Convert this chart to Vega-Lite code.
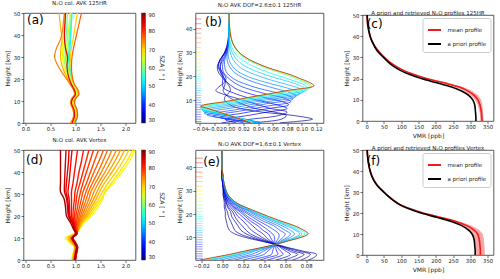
{
"$schema":"https://vega.github.io/schema/vega-lite/v6.json",
"autosize":{"type":"none"},
"padding":{"left":23.5,"top":13,"right":476.5,"bottom":266},
"config":{
"font":"DejaVu Sans",
"view":{"stroke":"#333","strokeWidth":0.8},
"axis":{"domain":false,"grid":false,"ticks":true,"tickColor":"#333","tickSize":2.5,"tickWidth":0.7,"labelFontSize":5.3,"labelColor":"#222","labelPadding":1,"labelFlush":false,"labelOverlap":false,"titleFontSize":6,"titleFontWeight":"normal","titleColor":"#222","titlePadding":3},
"title":{"fontSize":5.5,"fontWeight":"normal","color":"#222","anchor":"middle","frame":"group","baseline":"alphabetic"},
"legend":{"labelFontSize":5.3,"labelColor":"#222","titleFontSize":6,"titleFontWeight":"normal","titleColor":"#222"}
},
"datasets":{
"a":[
{"k":101,"c":52,"h":0,"x":1.00},{"k":101,"c":52,"h":3,"x":1.04},{"k":101,"c":52,"h":6,"x":1.03},{"k":101,"c":52,"h":9,"x":0.98},{"k":101,"c":52,"h":11,"x":1.00},{"k":101,"c":52,"h":13,"x":1.05},{"k":101,"c":52,"h":15,"x":1.03},{"k":101,"c":52,"h":18,"x":0.96},{"k":101,"c":52,"h":22,"x":0.91},{"k":101,"c":52,"h":26,"x":0.89},{"k":101,"c":52,"h":30,"x":0.88},{"k":101,"c":52,"h":34,"x":0.89},{"k":101,"c":52,"h":38,"x":0.90},{"k":101,"c":52,"h":42,"x":0.91},{"k":101,"c":52,"h":46,"x":0.92},{"k":101,"c":52,"h":50,"x":0.93},
{"k":102,"c":55,"h":0,"x":0.99},{"k":102,"c":55,"h":3,"x":1.03},{"k":102,"c":55,"h":6,"x":1.02},{"k":102,"c":55,"h":9,"x":0.97},{"k":102,"c":55,"h":11,"x":0.99},{"k":102,"c":55,"h":13,"x":1.04},{"k":102,"c":55,"h":15,"x":1.02},{"k":102,"c":55,"h":18,"x":0.95},{"k":102,"c":55,"h":22,"x":0.90},{"k":102,"c":55,"h":26,"x":0.87},{"k":102,"c":55,"h":30,"x":0.86},{"k":102,"c":55,"h":34,"x":0.87},{"k":102,"c":55,"h":38,"x":0.89},{"k":102,"c":55,"h":42,"x":0.90},{"k":102,"c":55,"h":46,"x":0.91},{"k":102,"c":55,"h":50,"x":0.92},
{"k":103,"c":58,"h":0,"x":0.97},{"k":103,"c":58,"h":3,"x":1.01},{"k":103,"c":58,"h":6,"x":1.00},{"k":103,"c":58,"h":9,"x":0.95},{"k":103,"c":58,"h":11,"x":0.97},{"k":103,"c":58,"h":13,"x":1.02},{"k":103,"c":58,"h":15,"x":1.00},{"k":103,"c":58,"h":18,"x":0.93},{"k":103,"c":58,"h":22,"x":0.86},{"k":103,"c":58,"h":26,"x":0.82},{"k":103,"c":58,"h":30,"x":0.80},{"k":103,"c":58,"h":34,"x":0.80},{"k":103,"c":58,"h":38,"x":0.81},{"k":103,"c":58,"h":42,"x":0.82},{"k":103,"c":58,"h":46,"x":0.83},{"k":103,"c":58,"h":50,"x":0.84},
{"k":104,"c":60,"h":0,"x":0.98},{"k":104,"c":60,"h":3,"x":1.02},{"k":104,"c":60,"h":6,"x":1.01},{"k":104,"c":60,"h":9,"x":0.96},{"k":104,"c":60,"h":11,"x":0.98},{"k":104,"c":60,"h":13,"x":1.03},{"k":104,"c":60,"h":15,"x":1.01},{"k":104,"c":60,"h":18,"x":0.94},{"k":104,"c":60,"h":22,"x":0.88},{"k":104,"c":60,"h":26,"x":0.85},{"k":104,"c":60,"h":30,"x":0.84},{"k":104,"c":60,"h":34,"x":0.85},{"k":104,"c":60,"h":38,"x":0.87},{"k":104,"c":60,"h":42,"x":0.88},{"k":104,"c":60,"h":46,"x":0.89},{"k":104,"c":60,"h":50,"x":0.90},
{"k":105,"c":62,"h":0,"x":0.95},{"k":105,"c":62,"h":3,"x":0.99},{"k":105,"c":62,"h":6,"x":0.98},{"k":105,"c":62,"h":9,"x":0.93},{"k":105,"c":62,"h":11,"x":0.95},{"k":105,"c":62,"h":13,"x":1.01},{"k":105,"c":62,"h":15,"x":0.99},{"k":105,"c":62,"h":18,"x":0.92},{"k":105,"c":62,"h":22,"x":0.84},{"k":105,"c":62,"h":26,"x":0.79},{"k":105,"c":62,"h":30,"x":0.77},{"k":105,"c":62,"h":34,"x":0.77},{"k":105,"c":62,"h":38,"x":0.78},{"k":105,"c":62,"h":42,"x":0.79},{"k":105,"c":62,"h":46,"x":0.80},{"k":105,"c":62,"h":50,"x":0.80},
{"k":106,"c":65,"h":0,"x":0.97},{"k":106,"c":65,"h":3,"x":1.00},{"k":106,"c":65,"h":6,"x":0.99},{"k":106,"c":65,"h":9,"x":0.94},{"k":106,"c":65,"h":11,"x":0.96},{"k":106,"c":65,"h":13,"x":1.02},{"k":106,"c":65,"h":15,"x":1.00},{"k":106,"c":65,"h":18,"x":0.93},{"k":106,"c":65,"h":22,"x":0.87},{"k":106,"c":65,"h":26,"x":0.84},{"k":106,"c":65,"h":30,"x":0.82},{"k":106,"c":65,"h":34,"x":0.82},{"k":106,"c":65,"h":38,"x":0.84},{"k":106,"c":65,"h":42,"x":0.86},{"k":106,"c":65,"h":46,"x":0.88},{"k":106,"c":65,"h":50,"x":0.90},
{"k":107,"c":67,"h":0,"x":0.94},{"k":107,"c":67,"h":3,"x":0.98},{"k":107,"c":67,"h":6,"x":0.97},{"k":107,"c":67,"h":9,"x":0.92},{"k":107,"c":67,"h":11,"x":0.94},{"k":107,"c":67,"h":13,"x":1.00},{"k":107,"c":67,"h":15,"x":0.98},{"k":107,"c":67,"h":18,"x":0.90},{"k":107,"c":67,"h":22,"x":0.82},{"k":107,"c":67,"h":26,"x":0.76},{"k":107,"c":67,"h":30,"x":0.74},{"k":107,"c":67,"h":34,"x":0.74},{"k":107,"c":67,"h":38,"x":0.75},{"k":107,"c":67,"h":42,"x":0.76},{"k":107,"c":67,"h":46,"x":0.77},{"k":107,"c":67,"h":50,"x":0.78},
{"k":108,"c":70,"h":0,"x":0.96},{"k":108,"c":70,"h":3,"x":1.02},{"k":108,"c":70,"h":6,"x":1.01},{"k":108,"c":70,"h":9,"x":0.96},{"k":108,"c":70,"h":11,"x":0.98},{"k":108,"c":70,"h":13,"x":1.05},{"k":108,"c":70,"h":15,"x":1.03},{"k":108,"c":70,"h":18,"x":0.96},{"k":108,"c":70,"h":22,"x":0.92},{"k":108,"c":70,"h":26,"x":0.91},{"k":108,"c":70,"h":30,"x":0.90},{"k":108,"c":70,"h":34,"x":0.92},{"k":108,"c":70,"h":38,"x":0.95},{"k":108,"c":70,"h":42,"x":0.98},{"k":108,"c":70,"h":46,"x":1.01},{"k":108,"c":70,"h":50,"x":1.04},
{"k":109,"c":72,"h":0,"x":0.93},{"k":109,"c":72,"h":3,"x":0.97},{"k":109,"c":72,"h":6,"x":0.96},{"k":109,"c":72,"h":9,"x":0.91},{"k":109,"c":72,"h":11,"x":0.93},{"k":109,"c":72,"h":13,"x":0.99},{"k":109,"c":72,"h":15,"x":0.97},{"k":109,"c":72,"h":18,"x":0.89},{"k":109,"c":72,"h":22,"x":0.80},{"k":109,"c":72,"h":26,"x":0.73},{"k":109,"c":72,"h":30,"x":0.70},{"k":109,"c":72,"h":34,"x":0.71},{"k":109,"c":72,"h":38,"x":0.73},{"k":109,"c":72,"h":42,"x":0.71},{"k":109,"c":72,"h":46,"x":0.69},{"k":109,"c":72,"h":50,"x":0.67},
{"k":110,"c":75,"h":0,"x":0.90},{"k":110,"c":75,"h":3,"x":0.96},{"k":110,"c":75,"h":6,"x":0.95},{"k":110,"c":75,"h":9,"x":0.90},{"k":110,"c":75,"h":11,"x":0.92},{"k":110,"c":75,"h":13,"x":0.98},{"k":110,"c":75,"h":15,"x":0.96},{"k":110,"c":75,"h":18,"x":0.88},{"k":110,"c":75,"h":22,"x":0.76},{"k":110,"c":75,"h":26,"x":0.65},{"k":110,"c":75,"h":30,"x":0.58},{"k":110,"c":75,"h":34,"x":0.62},{"k":110,"c":75,"h":38,"x":0.70},{"k":110,"c":75,"h":42,"x":0.74},{"k":110,"c":75,"h":46,"x":0.76},{"k":110,"c":75,"h":50,"x":0.78},
{"k":111,"c":77,"h":0,"x":0.98},{"k":111,"c":77,"h":3,"x":1.04},{"k":111,"c":77,"h":6,"x":1.03},{"k":111,"c":77,"h":9,"x":0.98},{"k":111,"c":77,"h":11,"x":1.00},{"k":111,"c":77,"h":13,"x":1.07},{"k":111,"c":77,"h":15,"x":1.05},{"k":111,"c":77,"h":18,"x":0.97},{"k":111,"c":77,"h":22,"x":0.93},{"k":111,"c":77,"h":26,"x":0.92},{"k":111,"c":77,"h":30,"x":0.93},{"k":111,"c":77,"h":34,"x":0.96},{"k":111,"c":77,"h":38,"x":1.00},{"k":111,"c":77,"h":42,"x":1.04},{"k":111,"c":77,"h":46,"x":1.08},{"k":111,"c":77,"h":50,"x":1.12},
{"k":112,"c":84,"h":0,"x":0.93},{"k":112,"c":84,"h":3,"x":0.98},{"k":112,"c":84,"h":6,"x":0.97},{"k":112,"c":84,"h":9,"x":0.92},{"k":112,"c":84,"h":11,"x":0.94},{"k":112,"c":84,"h":13,"x":1.00},{"k":112,"c":84,"h":15,"x":0.98},{"k":112,"c":84,"h":18,"x":0.91},{"k":112,"c":84,"h":22,"x":0.85},{"k":112,"c":84,"h":26,"x":0.83},{"k":112,"c":84,"h":30,"x":0.84},{"k":112,"c":84,"h":34,"x":0.80},{"k":112,"c":84,"h":38,"x":0.78},{"k":112,"c":84,"h":42,"x":0.78},{"k":112,"c":84,"h":46,"x":0.79},{"k":112,"c":84,"h":50,"x":0.80}
],
"d":[
{"k":101,"c":67,"h":0,"x":0.92},{"k":101,"c":67,"h":3,"x":0.95},{"k":101,"c":67,"h":6,"x":0.97},{"k":101,"c":67,"h":8,"x":0.88},{"k":101,"c":67,"h":10,"x":0.80},{"k":101,"c":67,"h":12,"x":0.97},{"k":101,"c":67,"h":14,"x":1.08},{"k":101,"c":67,"h":17,"x":1.17},{"k":101,"c":67,"h":20,"x":1.32},{"k":101,"c":67,"h":24,"x":1.44},{"k":101,"c":67,"h":28,"x":1.55},{"k":101,"c":67,"h":31,"x":1.58},{"k":101,"c":67,"h":35,"x":1.76},{"k":101,"c":67,"h":40,"x":1.93},{"k":101,"c":67,"h":45,"x":2.08},{"k":101,"c":67,"h":50,"x":2.19},
{"k":102,"c":69,"h":0,"x":0.93},{"k":102,"c":69,"h":3,"x":0.96},{"k":102,"c":69,"h":6,"x":0.98},{"k":102,"c":69,"h":8,"x":0.90},{"k":102,"c":69,"h":10,"x":0.83},{"k":102,"c":69,"h":12,"x":0.99},{"k":102,"c":69,"h":14,"x":1.07},{"k":102,"c":69,"h":17,"x":1.15},{"k":102,"c":69,"h":20,"x":1.28},{"k":102,"c":69,"h":24,"x":1.40},{"k":102,"c":69,"h":28,"x":1.52},{"k":102,"c":69,"h":31,"x":1.60},{"k":102,"c":69,"h":35,"x":1.72},{"k":102,"c":69,"h":40,"x":1.88},{"k":102,"c":69,"h":45,"x":2.03},{"k":102,"c":69,"h":50,"x":2.15},
{"k":103,"c":70,"h":0,"x":0.94},{"k":103,"c":70,"h":3,"x":0.97},{"k":103,"c":70,"h":6,"x":0.99},{"k":103,"c":70,"h":8,"x":0.91},{"k":103,"c":70,"h":10,"x":0.85},{"k":103,"c":70,"h":12,"x":1.00},{"k":103,"c":70,"h":14,"x":1.06},{"k":103,"c":70,"h":17,"x":1.14},{"k":103,"c":70,"h":20,"x":1.25},{"k":103,"c":70,"h":24,"x":1.36},{"k":103,"c":70,"h":28,"x":1.47},{"k":103,"c":70,"h":31,"x":1.54},{"k":103,"c":70,"h":35,"x":1.65},{"k":103,"c":70,"h":40,"x":1.81},{"k":103,"c":70,"h":45,"x":1.95},{"k":103,"c":70,"h":50,"x":2.07},
{"k":104,"c":72,"h":0,"x":0.95},{"k":104,"c":72,"h":3,"x":0.97},{"k":104,"c":72,"h":6,"x":0.99},{"k":104,"c":72,"h":8,"x":0.93},{"k":104,"c":72,"h":10,"x":0.87},{"k":104,"c":72,"h":12,"x":1.01},{"k":104,"c":72,"h":14,"x":1.06},{"k":104,"c":72,"h":17,"x":1.12},{"k":104,"c":72,"h":20,"x":1.22},{"k":104,"c":72,"h":24,"x":1.32},{"k":104,"c":72,"h":28,"x":1.42},{"k":104,"c":72,"h":31,"x":1.48},{"k":104,"c":72,"h":35,"x":1.58},{"k":104,"c":72,"h":40,"x":1.73},{"k":104,"c":72,"h":45,"x":1.87},{"k":104,"c":72,"h":50,"x":1.98},
{"k":105,"c":73,"h":0,"x":0.95},{"k":105,"c":73,"h":3,"x":0.98},{"k":105,"c":73,"h":6,"x":1.00},{"k":105,"c":73,"h":8,"x":0.94},{"k":105,"c":73,"h":10,"x":0.89},{"k":105,"c":73,"h":12,"x":1.01},{"k":105,"c":73,"h":14,"x":1.05},{"k":105,"c":73,"h":17,"x":1.10},{"k":105,"c":73,"h":20,"x":1.19},{"k":105,"c":73,"h":24,"x":1.28},{"k":105,"c":73,"h":28,"x":1.37},{"k":105,"c":73,"h":31,"x":1.43},{"k":105,"c":73,"h":35,"x":1.52},{"k":105,"c":73,"h":40,"x":1.66},{"k":105,"c":73,"h":45,"x":1.79},{"k":105,"c":73,"h":50,"x":1.90},
{"k":106,"c":74,"h":0,"x":0.96},{"k":106,"c":74,"h":3,"x":0.98},{"k":106,"c":74,"h":6,"x":1.00},{"k":106,"c":74,"h":8,"x":0.95},{"k":106,"c":74,"h":10,"x":0.90},{"k":106,"c":74,"h":12,"x":1.02},{"k":106,"c":74,"h":14,"x":1.05},{"k":106,"c":74,"h":17,"x":1.09},{"k":106,"c":74,"h":20,"x":1.16},{"k":106,"c":74,"h":24,"x":1.24},{"k":106,"c":74,"h":28,"x":1.32},{"k":106,"c":74,"h":31,"x":1.37},{"k":106,"c":74,"h":35,"x":1.46},{"k":106,"c":74,"h":40,"x":1.59},{"k":106,"c":74,"h":45,"x":1.71},{"k":106,"c":74,"h":50,"x":1.82},
{"k":107,"c":75,"h":0,"x":0.96},{"k":107,"c":75,"h":3,"x":0.99},{"k":107,"c":75,"h":6,"x":1.01},{"k":107,"c":75,"h":8,"x":0.96},{"k":107,"c":75,"h":10,"x":0.91},{"k":107,"c":75,"h":12,"x":1.02},{"k":107,"c":75,"h":14,"x":1.04},{"k":107,"c":75,"h":17,"x":1.07},{"k":107,"c":75,"h":20,"x":1.13},{"k":107,"c":75,"h":24,"x":1.20},{"k":107,"c":75,"h":28,"x":1.27},{"k":107,"c":75,"h":31,"x":1.31},{"k":107,"c":75,"h":35,"x":1.40},{"k":107,"c":75,"h":40,"x":1.52},{"k":107,"c":75,"h":45,"x":1.63},{"k":107,"c":75,"h":50,"x":1.73},
{"k":108,"c":76,"h":0,"x":0.97},{"k":108,"c":76,"h":3,"x":0.99},{"k":108,"c":76,"h":6,"x":1.01},{"k":108,"c":76,"h":8,"x":0.97},{"k":108,"c":76,"h":10,"x":0.92},{"k":108,"c":76,"h":12,"x":1.03},{"k":108,"c":76,"h":14,"x":1.04},{"k":108,"c":76,"h":17,"x":1.06},{"k":108,"c":76,"h":20,"x":1.10},{"k":108,"c":76,"h":24,"x":1.16},{"k":108,"c":76,"h":28,"x":1.22},{"k":108,"c":76,"h":31,"x":1.26},{"k":108,"c":76,"h":35,"x":1.34},{"k":108,"c":76,"h":40,"x":1.45},{"k":108,"c":76,"h":45,"x":1.55},{"k":108,"c":76,"h":50,"x":1.64},
{"k":109,"c":77,"h":0,"x":0.97},{"k":109,"c":77,"h":3,"x":1.00},{"k":109,"c":77,"h":6,"x":1.02},{"k":109,"c":77,"h":8,"x":0.97},{"k":109,"c":77,"h":10,"x":0.92},{"k":109,"c":77,"h":12,"x":1.03},{"k":109,"c":77,"h":14,"x":1.03},{"k":109,"c":77,"h":17,"x":1.05},{"k":109,"c":77,"h":20,"x":1.07},{"k":109,"c":77,"h":24,"x":1.12},{"k":109,"c":77,"h":28,"x":1.17},{"k":109,"c":77,"h":31,"x":1.21},{"k":109,"c":77,"h":35,"x":1.28},{"k":109,"c":77,"h":40,"x":1.37},{"k":109,"c":77,"h":45,"x":1.47},{"k":109,"c":77,"h":50,"x":1.56},
{"k":110,"c":78,"h":0,"x":0.98},{"k":110,"c":78,"h":3,"x":1.00},{"k":110,"c":78,"h":6,"x":1.02},{"k":110,"c":78,"h":8,"x":0.98},{"k":110,"c":78,"h":10,"x":0.93},{"k":110,"c":78,"h":12,"x":1.03},{"k":110,"c":78,"h":14,"x":1.02},{"k":110,"c":78,"h":17,"x":1.03},{"k":110,"c":78,"h":20,"x":1.04},{"k":110,"c":78,"h":24,"x":1.08},{"k":110,"c":78,"h":28,"x":1.12},{"k":110,"c":78,"h":31,"x":1.15},{"k":110,"c":78,"h":35,"x":1.22},{"k":110,"c":78,"h":40,"x":1.30},{"k":110,"c":78,"h":45,"x":1.38},{"k":110,"c":78,"h":50,"x":1.46},
{"k":111,"c":79,"h":0,"x":0.985},{"k":111,"c":79,"h":3,"x":1.005},{"k":111,"c":79,"h":6,"x":1.025},{"k":111,"c":79,"h":8,"x":0.985},{"k":111,"c":79,"h":10,"x":0.935},{"k":111,"c":79,"h":12,"x":1.03},{"k":111,"c":79,"h":14,"x":1.015},{"k":111,"c":79,"h":17,"x":1.015},{"k":111,"c":79,"h":20,"x":1.01},{"k":111,"c":79,"h":24,"x":1.04},{"k":111,"c":79,"h":28,"x":1.07},{"k":111,"c":79,"h":31,"x":1.10},{"k":111,"c":79,"h":35,"x":1.15},{"k":111,"c":79,"h":40,"x":1.22},{"k":111,"c":79,"h":45,"x":1.29},{"k":111,"c":79,"h":50,"x":1.36},
{"k":112,"c":80,"h":0,"x":0.99},{"k":112,"c":80,"h":3,"x":1.01},{"k":112,"c":80,"h":6,"x":1.03},{"k":112,"c":80,"h":8,"x":0.99},{"k":112,"c":80,"h":10,"x":0.94},{"k":112,"c":80,"h":12,"x":1.03},{"k":112,"c":80,"h":14,"x":1.01},{"k":112,"c":80,"h":17,"x":1.00},{"k":112,"c":80,"h":20,"x":0.98},{"k":112,"c":80,"h":24,"x":1.00},{"k":112,"c":80,"h":28,"x":1.02},{"k":112,"c":80,"h":31,"x":1.04},{"k":112,"c":80,"h":35,"x":1.09},{"k":112,"c":80,"h":40,"x":1.15},{"k":112,"c":80,"h":45,"x":1.21},{"k":112,"c":80,"h":50,"x":1.27},
{"k":113,"c":81,"h":0,"x":0.99},{"k":113,"c":81,"h":3,"x":1.02},{"k":113,"c":81,"h":6,"x":1.04},{"k":113,"c":81,"h":8,"x":0.99},{"k":113,"c":81,"h":10,"x":0.95},{"k":113,"c":81,"h":12,"x":1.03},{"k":113,"c":81,"h":14,"x":1.00},{"k":113,"c":81,"h":17,"x":0.98},{"k":113,"c":81,"h":20,"x":0.95},{"k":113,"c":81,"h":24,"x":0.96},{"k":113,"c":81,"h":28,"x":0.98},{"k":113,"c":81,"h":31,"x":0.99},{"k":113,"c":81,"h":35,"x":1.03},{"k":113,"c":81,"h":40,"x":1.07},{"k":113,"c":81,"h":45,"x":1.12},{"k":113,"c":81,"h":50,"x":1.16},
{"k":114,"c":82,"h":0,"x":1.00},{"k":114,"c":82,"h":3,"x":1.02},{"k":114,"c":82,"h":6,"x":1.04},{"k":114,"c":82,"h":8,"x":1.00},{"k":114,"c":82,"h":10,"x":0.95},{"k":114,"c":82,"h":12,"x":1.03},{"k":114,"c":82,"h":14,"x":1.00},{"k":114,"c":82,"h":17,"x":0.97},{"k":114,"c":82,"h":20,"x":0.92},{"k":114,"c":82,"h":24,"x":0.92},{"k":114,"c":82,"h":28,"x":0.92},{"k":114,"c":82,"h":31,"x":0.92},{"k":114,"c":82,"h":35,"x":0.95},{"k":114,"c":82,"h":40,"x":0.98},{"k":114,"c":82,"h":45,"x":1.01},{"k":114,"c":82,"h":50,"x":1.04},
{"k":115,"c":83,"h":0,"x":0.99},{"k":115,"c":83,"h":3,"x":1.01},{"k":115,"c":83,"h":6,"x":1.03},{"k":115,"c":83,"h":8,"x":0.98},{"k":115,"c":83,"h":10,"x":0.94},{"k":115,"c":83,"h":12,"x":1.02},{"k":115,"c":83,"h":14,"x":0.99},{"k":115,"c":83,"h":17,"x":0.95},{"k":115,"c":83,"h":20,"x":0.89},{"k":115,"c":83,"h":24,"x":0.88},{"k":115,"c":83,"h":28,"x":0.87},{"k":115,"c":83,"h":31,"x":0.85},{"k":115,"c":83,"h":35,"x":0.87},{"k":115,"c":83,"h":40,"x":0.89},{"k":115,"c":83,"h":45,"x":0.91},{"k":115,"c":83,"h":50,"x":0.93},
{"k":116,"c":84,"h":0,"x":0.99},{"k":116,"c":84,"h":3,"x":1.01},{"k":116,"c":84,"h":6,"x":1.03},{"k":116,"c":84,"h":8,"x":0.98},{"k":116,"c":84,"h":10,"x":0.94},{"k":116,"c":84,"h":12,"x":1.02},{"k":116,"c":84,"h":14,"x":0.98},{"k":116,"c":84,"h":17,"x":0.94},{"k":116,"c":84,"h":20,"x":0.87},{"k":116,"c":84,"h":24,"x":0.86},{"k":116,"c":84,"h":28,"x":0.84},{"k":116,"c":84,"h":31,"x":0.81},{"k":116,"c":84,"h":35,"x":0.82},{"k":116,"c":84,"h":40,"x":0.84},{"k":116,"c":84,"h":45,"x":0.86},{"k":116,"c":84,"h":50,"x":0.87},
{"k":117,"c":85,"h":0,"x":1.00},{"k":117,"c":85,"h":3,"x":1.02},{"k":117,"c":85,"h":6,"x":1.04},{"k":117,"c":85,"h":8,"x":0.99},{"k":117,"c":85,"h":10,"x":0.94},{"k":117,"c":85,"h":12,"x":1.02},{"k":117,"c":85,"h":14,"x":0.98},{"k":117,"c":85,"h":17,"x":0.93},{"k":117,"c":85,"h":20,"x":0.86},{"k":117,"c":85,"h":24,"x":0.84},{"k":117,"c":85,"h":28,"x":0.82},{"k":117,"c":85,"h":31,"x":0.78},{"k":117,"c":85,"h":35,"x":0.78},{"k":117,"c":85,"h":40,"x":0.79},{"k":117,"c":85,"h":45,"x":0.80},{"k":117,"c":85,"h":50,"x":0.81},
{"k":118,"c":88,"h":0,"x":0.98},{"k":118,"c":88,"h":3,"x":1.00},{"k":118,"c":88,"h":6,"x":1.02},{"k":118,"c":88,"h":8,"x":0.97},{"k":118,"c":88,"h":10,"x":0.93},{"k":118,"c":88,"h":12,"x":1.00},{"k":118,"c":88,"h":14,"x":0.96},{"k":118,"c":88,"h":17,"x":0.90},{"k":118,"c":88,"h":20,"x":0.82},{"k":118,"c":88,"h":24,"x":0.80},{"k":118,"c":88,"h":28,"x":0.77},{"k":118,"c":88,"h":31,"x":0.70},{"k":118,"c":88,"h":35,"x":0.70},{"k":118,"c":88,"h":40,"x":0.70},{"k":118,"c":88,"h":45,"x":0.70},{"k":118,"c":88,"h":50,"x":0.70}
],
"b":[
{"k":101,"c":1,"h":0.5,"x":0.070},{"k":101,"c":1,"h":2,"x":0.115},{"k":101,"c":1,"h":3.5,"x":0.090},{"k":101,"c":1,"h":5,"x":0.045},{"k":101,"c":1,"h":6.5,"x":0.015},{"k":101,"c":1,"h":7.5,"x":0.005},{"k":101,"c":1,"h":9.5,"x":-0.005},{"k":101,"c":1,"h":11,"x":-0.006},{"k":101,"c":1,"h":12.5,"x":-0.002},{"k":101,"c":1,"h":14,"x":0.002},{"k":101,"c":1,"h":16,"x":0.0},{"k":101,"c":1,"h":17.5,"x":-0.004},{"k":101,"c":1,"h":19,"x":-0.008},{"k":101,"c":1,"h":20.5,"x":-0.012},{"k":101,"c":1,"h":22,"x":-0.015},{"k":101,"c":1,"h":24,"x":-0.016},{"k":101,"c":1,"h":27,"x":-0.012},{"k":101,"c":1,"h":30,"x":-0.006},{"k":101,"c":1,"h":34,"x":-0.002},{"k":101,"c":1,"h":40,"x":0.0},{"k":101,"c":1,"h":46,"x":0.0},
{"k":102,"c":2,"h":0.5,"x":0.030},{"k":102,"c":2,"h":2,"x":0.072},{"k":102,"c":2,"h":3.5,"x":0.079},{"k":102,"c":2,"h":5,"x":0.062},{"k":102,"c":2,"h":6.5,"x":0.036},{"k":102,"c":2,"h":7.5,"x":0.026},{"k":102,"c":2,"h":9.5,"x":0.010},{"k":102,"c":2,"h":11,"x":0.001},{"k":102,"c":2,"h":12.5,"x":-0.005},{"k":102,"c":2,"h":14,"x":-0.008},{"k":102,"c":2,"h":16,"x":-0.006},{"k":102,"c":2,"h":17.5,"x":-0.005},{"k":102,"c":2,"h":19,"x":-0.006},{"k":102,"c":2,"h":20.5,"x":-0.009},{"k":102,"c":2,"h":22,"x":-0.012},{"k":102,"c":2,"h":24,"x":-0.015},{"k":102,"c":2,"h":27,"x":-0.012},{"k":102,"c":2,"h":30,"x":-0.005},{"k":102,"c":2,"h":34,"x":-0.001},{"k":102,"c":2,"h":40,"x":0.0},{"k":102,"c":2,"h":46,"x":0.0},
{"k":103,"c":3,"h":0.5,"x":-0.010},{"k":103,"c":3,"h":2,"x":0.030},{"k":103,"c":3,"h":3.5,"x":0.068},{"k":103,"c":3,"h":5,"x":0.080},{"k":103,"c":3,"h":6.5,"x":0.057},{"k":103,"c":3,"h":7.5,"x":0.046},{"k":103,"c":3,"h":9.5,"x":0.024},{"k":103,"c":3,"h":11,"x":0.008},{"k":103,"c":3,"h":12.5,"x":-0.008},{"k":103,"c":3,"h":14,"x":-0.018},{"k":103,"c":3,"h":16,"x":-0.012},{"k":103,"c":3,"h":17.5,"x":-0.006},{"k":103,"c":3,"h":19,"x":-0.004},{"k":103,"c":3,"h":20.5,"x":-0.006},{"k":103,"c":3,"h":22,"x":-0.010},{"k":103,"c":3,"h":24,"x":-0.014},{"k":103,"c":3,"h":27,"x":-0.012},{"k":103,"c":3,"h":30,"x":-0.005},{"k":103,"c":3,"h":34,"x":-0.001},{"k":103,"c":3,"h":40,"x":0.0},{"k":103,"c":3,"h":46,"x":0.0},
{"k":104,"c":4.5,"h":0.5,"x":0.010},{"k":104,"c":4.5,"h":1.8,"x":-0.005},{"k":104,"c":4.5,"h":3.5,"x":0.025},{"k":104,"c":4.5,"h":5,"x":0.053},{"k":104,"c":4.5,"h":6.5,"x":0.080},{"k":104,"c":4.5,"h":8,"x":0.066},{"k":104,"c":4.5,"h":9.5,"x":0.046},{"k":104,"c":4.5,"h":11,"x":0.026},{"k":104,"c":4.5,"h":13,"x":0.006},{"k":104,"c":4.5,"h":15,"x":-0.007},{"k":104,"c":4.5,"h":17,"x":-0.009},{"k":104,"c":4.5,"h":20,"x":-0.008},{"k":104,"c":4.5,"h":24,"x":-0.012},{"k":104,"c":4.5,"h":28,"x":-0.009},{"k":104,"c":4.5,"h":32,"x":-0.003},{"k":104,"c":4.5,"h":38,"x":0.0},{"k":104,"c":4.5,"h":46,"x":0.0},
{"k":105,"c":6,"h":0.5,"x":0.020},{"k":105,"c":6,"h":1.5,"x":0.005},{"k":105,"c":6,"h":2.8,"x":-0.012},{"k":105,"c":6,"h":4.5,"x":0.018},{"k":105,"c":6,"h":6.5,"x":0.055},{"k":105,"c":6,"h":8,"x":0.082},{"k":105,"c":6,"h":9.5,"x":0.072},{"k":105,"c":6,"h":11,"x":0.050},{"k":105,"c":6,"h":13,"x":0.025},{"k":105,"c":6,"h":15,"x":0.008},{"k":105,"c":6,"h":18,"x":-0.004},{"k":105,"c":6,"h":22,"x":-0.012},{"k":105,"c":6,"h":26,"x":-0.010},{"k":105,"c":6,"h":30,"x":-0.004},{"k":105,"c":6,"h":36,"x":0.0},{"k":105,"c":6,"h":46,"x":0.0},
{"k":106,"c":7.5,"h":0.5,"x":0.030},{"k":106,"c":7.5,"h":1.8,"x":0.005},{"k":106,"c":7.5,"h":3.3,"x":-0.022},{"k":106,"c":7.5,"h":5.5,"x":0.017},{"k":106,"c":7.5,"h":7.5,"x":0.053},{"k":106,"c":7.5,"h":9.3,"x":0.085},{"k":106,"c":7.5,"h":10.8,"x":0.076},{"k":106,"c":7.5,"h":12.3,"x":0.055},{"k":106,"c":7.5,"h":14,"x":0.034},{"k":106,"c":7.5,"h":16,"x":0.015},{"k":106,"c":7.5,"h":18.5,"x":0.002},{"k":106,"c":7.5,"h":22,"x":-0.008},{"k":106,"c":7.5,"h":26,"x":-0.008},{"k":106,"c":7.5,"h":30,"x":-0.003},{"k":106,"c":7.5,"h":36,"x":0.0},{"k":106,"c":7.5,"h":46,"x":0.0},
{"k":107,"c":9,"h":0.5,"x":0.035},{"k":107,"c":9,"h":2,"x":0.005},{"k":107,"c":9,"h":3.8,"x":-0.030},{"k":107,"c":9,"h":6,"x":0.010},{"k":107,"c":9,"h":8.5,"x":0.052},{"k":107,"c":9,"h":10.5,"x":0.088},{"k":107,"c":9,"h":12,"x":0.080},{"k":107,"c":9,"h":13.5,"x":0.060},{"k":107,"c":9,"h":15,"x":0.040},{"k":107,"c":9,"h":17,"x":0.020},{"k":107,"c":9,"h":19,"x":0.006},{"k":107,"c":9,"h":22,"x":-0.004},{"k":107,"c":9,"h":26,"x":-0.006},{"k":107,"c":9,"h":30,"x":-0.003},{"k":107,"c":9,"h":36,"x":0.0},{"k":107,"c":9,"h":46,"x":0.0},
{"k":108,"c":10.5,"h":0.5,"x":0.042},{"k":108,"c":10.5,"h":2,"x":0.015},{"k":108,"c":10.5,"h":3.2,"x":-0.010},{"k":108,"c":10.5,"h":4.5,"x":-0.034},{"k":108,"c":10.5,"h":7,"x":0.010},{"k":108,"c":10.5,"h":9.3,"x":0.052},{"k":108,"c":10.5,"h":11.5,"x":0.092},{"k":108,"c":10.5,"h":13,"x":0.085},{"k":108,"c":10.5,"h":14.5,"x":0.068},{"k":108,"c":10.5,"h":16.5,"x":0.045},{"k":108,"c":10.5,"h":19,"x":0.022},{"k":108,"c":10.5,"h":22,"x":0.006},{"k":108,"c":10.5,"h":26,"x":-0.002},{"k":108,"c":10.5,"h":31,"x":-0.002},{"k":108,"c":10.5,"h":37,"x":0.0},{"k":108,"c":10.5,"h":46,"x":0.0},
{"k":109,"c":12,"h":0.5,"x":0.045},{"k":109,"c":12,"h":2,"x":0.022},{"k":109,"c":12,"h":3.5,"x":-0.005},{"k":109,"c":12,"h":5.2,"x":-0.035},{"k":109,"c":12,"h":7.5,"x":0.005},{"k":109,"c":12,"h":10,"x":0.050},{"k":109,"c":12,"h":12.5,"x":0.097},{"k":109,"c":12,"h":14,"x":0.090},{"k":109,"c":12,"h":15.5,"x":0.075},{"k":109,"c":12,"h":17.5,"x":0.050},{"k":109,"c":12,"h":20,"x":0.025},{"k":109,"c":12,"h":23,"x":0.008},{"k":109,"c":12,"h":27,"x":0.0},{"k":109,"c":12,"h":32,"x":-0.001},{"k":109,"c":12,"h":38,"x":0.0},{"k":109,"c":12,"h":46,"x":0.0},
{"k":110,"c":13.5,"h":0.5,"x":0.044},{"k":110,"c":13.5,"h":2,"x":0.022},{"k":110,"c":13.5,"h":3.8,"x":-0.004},{"k":110,"c":13.5,"h":5.8,"x":-0.037},{"k":110,"c":13.5,"h":8,"x":0.003},{"k":110,"c":13.5,"h":10.5,"x":0.048},{"k":110,"c":13.5,"h":13.4,"x":0.102},{"k":110,"c":13.5,"h":15,"x":0.096},{"k":110,"c":13.5,"h":16.5,"x":0.080},{"k":110,"c":13.5,"h":18.5,"x":0.057},{"k":110,"c":13.5,"h":21,"x":0.033},{"k":110,"c":13.5,"h":24,"x":0.014},{"k":110,"c":13.5,"h":28,"x":0.004},{"k":110,"c":13.5,"h":33,"x":0.0},{"k":110,"c":13.5,"h":39,"x":0.0},{"k":110,"c":13.5,"h":46,"x":0.0},
{"k":111,"c":15,"h":0.5,"x":0.040},{"k":111,"c":15,"h":2,"x":0.020},{"k":111,"c":15,"h":4,"x":-0.007},{"k":111,"c":15,"h":6.3,"x":-0.038},{"k":111,"c":15,"h":8.5,"x":0.002},{"k":111,"c":15,"h":11,"x":0.048},{"k":111,"c":15,"h":14.2,"x":0.106},{"k":111,"c":15,"h":15.7,"x":0.100},{"k":111,"c":15,"h":17.5,"x":0.085},{"k":111,"c":15,"h":19.5,"x":0.062},{"k":111,"c":15,"h":22,"x":0.038},{"k":111,"c":15,"h":25,"x":0.018},{"k":111,"c":15,"h":29,"x":0.006},{"k":111,"c":15,"h":34,"x":0.001},{"k":111,"c":15,"h":40,"x":0.0},{"k":111,"c":15,"h":46,"x":0.0},
{"k":112,"c":17,"h":0.5,"x":0.036},{"k":112,"c":17,"h":2,"x":0.020},{"k":112,"c":17,"h":4,"x":-0.005},{"k":112,"c":17,"h":6.7,"x":-0.039},{"k":112,"c":17,"h":9,"x":0.003},{"k":112,"c":17,"h":11.5,"x":0.049},{"k":112,"c":17,"h":14.8,"x":0.109},{"k":112,"c":17,"h":16.3,"x":0.104},{"k":112,"c":17,"h":18,"x":0.090},{"k":112,"c":17,"h":20,"x":0.070},{"k":112,"c":17,"h":22.5,"x":0.046},{"k":112,"c":17,"h":25.5,"x":0.025},{"k":112,"c":17,"h":29,"x":0.010},{"k":112,"c":17,"h":34,"x":0.002},{"k":112,"c":17,"h":40,"x":0.0},{"k":112,"c":17,"h":46,"x":0.0},
{"k":113,"c":19,"h":0.5,"x":0.033},{"k":113,"c":19,"h":2,"x":0.018},{"k":113,"c":19,"h":4,"x":-0.004},{"k":113,"c":19,"h":5.5,"x":-0.022},{"k":113,"c":19,"h":7,"x":-0.039},{"k":113,"c":19,"h":9,"x":-0.004},{"k":113,"c":19,"h":11,"x":0.033},{"k":113,"c":19,"h":13,"x":0.070},{"k":113,"c":19,"h":15.3,"x":0.112},{"k":113,"c":19,"h":17,"x":0.106},{"k":113,"c":19,"h":18.5,"x":0.096},{"k":113,"c":19,"h":20.5,"x":0.080},{"k":113,"c":19,"h":22.5,"x":0.060},{"k":113,"c":19,"h":25,"x":0.038},{"k":113,"c":19,"h":28,"x":0.020},{"k":113,"c":19,"h":32,"x":0.008},{"k":113,"c":19,"h":38,"x":0.002},{"k":113,"c":19,"h":46,"x":0.0},
{"k":114,"c":23,"h":0.5,"x":0.032},{"k":114,"c":23,"h":2,"x":0.017},{"k":114,"c":23,"h":3.5,"x":0.001},{"k":114,"c":23,"h":5,"x":-0.015},{"k":114,"c":23,"h":7.2,"x":-0.038},{"k":114,"c":23,"h":9.3,"x":-0.002},{"k":114,"c":23,"h":11,"x":0.029},{"k":114,"c":23,"h":13,"x":0.066},{"k":114,"c":23,"h":15.6,"x":0.114},{"k":114,"c":23,"h":17.2,"x":0.108},{"k":114,"c":23,"h":18.8,"x":0.096},{"k":114,"c":23,"h":20.5,"x":0.082},{"k":114,"c":23,"h":22.5,"x":0.062},{"k":114,"c":23,"h":25,"x":0.041},{"k":114,"c":23,"h":28,"x":0.022},{"k":114,"c":23,"h":32,"x":0.009},{"k":114,"c":23,"h":38,"x":0.002},{"k":114,"c":23,"h":46,"x":0.0},
{"k":115,"c":28,"h":0.5,"x":0.031},{"k":115,"c":28,"h":2,"x":0.017},{"k":115,"c":28,"h":3.5,"x":0.002},{"k":115,"c":28,"h":5,"x":-0.013},{"k":115,"c":28,"h":6.5,"x":-0.027},{"k":115,"c":28,"h":7.6,"x":-0.037},{"k":115,"c":28,"h":9.5,"x":-0.002},{"k":115,"c":28,"h":11,"x":0.025},{"k":115,"c":28,"h":12.5,"x":0.052},{"k":115,"c":28,"h":14,"x":0.080},{"k":115,"c":28,"h":15.9,"x":0.113},{"k":115,"c":28,"h":17.5,"x":0.107},{"k":115,"c":28,"h":19,"x":0.095},{"k":115,"c":28,"h":20.5,"x":0.083},{"k":115,"c":28,"h":22,"x":0.067},{"k":115,"c":28,"h":24,"x":0.048},{"k":115,"c":28,"h":27,"x":0.027},{"k":115,"c":28,"h":30,"x":0.013},{"k":115,"c":28,"h":34,"x":0.005},{"k":115,"c":28,"h":40,"x":0.001},{"k":115,"c":28,"h":46,"x":0.0},
{"k":116,"c":44,"h":0.5,"x":0.030},{"k":116,"c":44,"h":2,"x":0.016},{"k":116,"c":44,"h":3.5,"x":0.001},{"k":116,"c":44,"h":5,"x":-0.014},{"k":116,"c":44,"h":6.5,"x":-0.029},{"k":116,"c":44,"h":7.5,"x":-0.039},{"k":116,"c":44,"h":9.5,"x":-0.002},{"k":116,"c":44,"h":11,"x":0.025},{"k":116,"c":44,"h":12.5,"x":0.053},{"k":116,"c":44,"h":14,"x":0.080},{"k":116,"c":44,"h":16,"x":0.117},{"k":116,"c":44,"h":17.5,"x":0.110},{"k":116,"c":44,"h":19,"x":0.098},{"k":116,"c":44,"h":20.5,"x":0.086},{"k":116,"c":44,"h":22,"x":0.070},{"k":116,"c":44,"h":24,"x":0.050},{"k":116,"c":44,"h":27,"x":0.028},{"k":116,"c":44,"h":30,"x":0.014},{"k":116,"c":44,"h":34,"x":0.005},{"k":116,"c":44,"h":40,"x":0.001},{"k":116,"c":44,"h":46,"x":0.0}
],
"e":[
{"k":101,"c":1,"h":0.3,"x":0.082},{"k":101,"c":1,"h":1.5,"x":0.088},{"k":101,"c":1,"h":2.7,"x":0.090},{"k":101,"c":1,"h":4,"x":0.078},{"k":101,"c":1,"h":5.5,"x":0.064},{"k":101,"c":1,"h":7,"x":0.051},{"k":101,"c":1,"h":8.5,"x":0.036},{"k":101,"c":1,"h":10,"x":0.022},{"k":101,"c":1,"h":11.5,"x":0.012},{"k":101,"c":1,"h":13,"x":0.007},{"k":101,"c":1,"h":15,"x":0.005},{"k":101,"c":1,"h":17,"x":0.004},{"k":101,"c":1,"h":19,"x":0.003},{"k":101,"c":1,"h":21,"x":0.003},{"k":101,"c":1,"h":23,"x":0.002},{"k":101,"c":1,"h":25,"x":0.002},{"k":101,"c":1,"h":28,"x":0.001},{"k":101,"c":1,"h":31,"x":0.001},{"k":101,"c":1,"h":35,"x":0},{"k":101,"c":1,"h":40,"x":0},{"k":101,"c":1,"h":47,"x":0},
{"k":102,"c":1.5,"h":0.3,"x":0.075},{"k":102,"c":1.5,"h":1.5,"x":0.081},{"k":102,"c":1.5,"h":2.7,"x":0.084},{"k":102,"c":1.5,"h":4,"x":0.074},{"k":102,"c":1.5,"h":5.5,"x":0.062},{"k":102,"c":1.5,"h":7,"x":0.051},{"k":102,"c":1.5,"h":8.5,"x":0.038},{"k":102,"c":1.5,"h":10,"x":0.026},{"k":102,"c":1.5,"h":11.5,"x":0.017},{"k":102,"c":1.5,"h":13,"x":0.012},{"k":102,"c":1.5,"h":15,"x":0.010},{"k":102,"c":1.5,"h":17,"x":0.008},{"k":102,"c":1.5,"h":19,"x":0.006},{"k":102,"c":1.5,"h":21,"x":0.005},{"k":102,"c":1.5,"h":23,"x":0.003},{"k":102,"c":1.5,"h":25,"x":0.003},{"k":102,"c":1.5,"h":28,"x":0.001},{"k":102,"c":1.5,"h":31,"x":0.001},{"k":102,"c":1.5,"h":35,"x":0},{"k":102,"c":1.5,"h":40,"x":0},{"k":102,"c":1.5,"h":47,"x":0},
{"k":103,"c":2,"h":0.3,"x":0.067},{"k":103,"c":2,"h":1.5,"x":0.074},{"k":103,"c":2,"h":2.7,"x":0.078},{"k":103,"c":2,"h":4,"x":0.069},{"k":103,"c":2,"h":5.5,"x":0.060},{"k":103,"c":2,"h":7,"x":0.051},{"k":103,"c":2,"h":8.5,"x":0.040},{"k":103,"c":2,"h":10,"x":0.030},{"k":103,"c":2,"h":11.5,"x":0.023},{"k":103,"c":2,"h":13,"x":0.018},{"k":103,"c":2,"h":15,"x":0.015},{"k":103,"c":2,"h":17,"x":0.012},{"k":103,"c":2,"h":19,"x":0.009},{"k":103,"c":2,"h":21,"x":0.008},{"k":103,"c":2,"h":23,"x":0.005},{"k":103,"c":2,"h":25,"x":0.004},{"k":103,"c":2,"h":28,"x":0.002},{"k":103,"c":2,"h":31,"x":0.001},{"k":103,"c":2,"h":35,"x":0},{"k":103,"c":2,"h":40,"x":0},{"k":103,"c":2,"h":47,"x":0},
{"k":104,"c":3,"h":0.3,"x":0.059},{"k":104,"c":3,"h":1.5,"x":0.067},{"k":104,"c":3,"h":2.7,"x":0.072},{"k":104,"c":3,"h":4,"x":0.065},{"k":104,"c":3,"h":5.5,"x":0.058},{"k":104,"c":3,"h":7,"x":0.051},{"k":104,"c":3,"h":8.5,"x":0.042},{"k":104,"c":3,"h":10,"x":0.034},{"k":104,"c":3,"h":11.5,"x":0.027},{"k":104,"c":3,"h":13,"x":0.023},{"k":104,"c":3,"h":15,"x":0.019},{"k":104,"c":3,"h":17,"x":0.015},{"k":104,"c":3,"h":19,"x":0.012},{"k":104,"c":3,"h":21,"x":0.010},{"k":104,"c":3,"h":23,"x":0.006},{"k":104,"c":3,"h":25,"x":0.004},{"k":104,"c":3,"h":28,"x":0.002},{"k":104,"c":3,"h":31,"x":0.001},{"k":104,"c":3,"h":35,"x":0},{"k":104,"c":3,"h":40,"x":0},{"k":104,"c":3,"h":47,"x":0},
{"k":105,"c":4,"h":0.3,"x":0.051},{"k":105,"c":4,"h":1.5,"x":0.060},{"k":105,"c":4,"h":2.7,"x":0.065},{"k":105,"c":4,"h":4,"x":0.061},{"k":105,"c":4,"h":5.5,"x":0.056},{"k":105,"c":4,"h":7,"x":0.051},{"k":105,"c":4,"h":8.5,"x":0.044},{"k":105,"c":4,"h":10,"x":0.038},{"k":105,"c":4,"h":11.5,"x":0.033},{"k":105,"c":4,"h":13,"x":0.028},{"k":105,"c":4,"h":15,"x":0.024},{"k":105,"c":4,"h":17,"x":0.020},{"k":105,"c":4,"h":19,"x":0.015},{"k":105,"c":4,"h":21,"x":0.012},{"k":105,"c":4,"h":23,"x":0.008},{"k":105,"c":4,"h":25,"x":0.005},{"k":105,"c":4,"h":28,"x":0.003},{"k":105,"c":4,"h":31,"x":0.002},{"k":105,"c":4,"h":35,"x":0},{"k":105,"c":4,"h":40,"x":0},{"k":105,"c":4,"h":47,"x":0},
{"k":106,"c":5,"h":0.3,"x":0.043},{"k":106,"c":5,"h":1.5,"x":0.052},{"k":106,"c":5,"h":2.7,"x":0.058},{"k":106,"c":5,"h":4,"x":0.056},{"k":106,"c":5,"h":5.5,"x":0.053},{"k":106,"c":5,"h":7,"x":0.051},{"k":106,"c":5,"h":8.5,"x":0.046},{"k":106,"c":5,"h":10,"x":0.042},{"k":106,"c":5,"h":11.5,"x":0.039},{"k":106,"c":5,"h":13,"x":0.034},{"k":106,"c":5,"h":15,"x":0.029},{"k":106,"c":5,"h":17,"x":0.024},{"k":106,"c":5,"h":19,"x":0.019},{"k":106,"c":5,"h":21,"x":0.014},{"k":106,"c":5,"h":23,"x":0.010},{"k":106,"c":5,"h":25,"x":0.006},{"k":106,"c":5,"h":28,"x":0.003},{"k":106,"c":5,"h":31,"x":0.002},{"k":106,"c":5,"h":35,"x":0},{"k":106,"c":5,"h":40,"x":0},{"k":106,"c":5,"h":47,"x":0},
{"k":107,"c":6,"h":0.3,"x":0.036},{"k":107,"c":6,"h":1.5,"x":0.045},{"k":107,"c":6,"h":2.7,"x":0.053},{"k":107,"c":6,"h":4,"x":0.052},{"k":107,"c":6,"h":5.5,"x":0.051},{"k":107,"c":6,"h":7,"x":0.051},{"k":107,"c":6,"h":8.5,"x":0.048},{"k":107,"c":6,"h":10,"x":0.046},{"k":107,"c":6,"h":11.5,"x":0.044},{"k":107,"c":6,"h":13,"x":0.039},{"k":107,"c":6,"h":15,"x":0.034},{"k":107,"c":6,"h":17,"x":0.027},{"k":107,"c":6,"h":19,"x":0.022},{"k":107,"c":6,"h":21,"x":0.017},{"k":107,"c":6,"h":23,"x":0.011},{"k":107,"c":6,"h":25,"x":0.007},{"k":107,"c":6,"h":28,"x":0.003},{"k":107,"c":6,"h":31,"x":0.002},{"k":107,"c":6,"h":35,"x":0},{"k":107,"c":6,"h":40,"x":0},{"k":107,"c":6,"h":47,"x":0},
{"k":108,"c":7,"h":0.3,"x":0.028},{"k":108,"c":7,"h":1.5,"x":0.039},{"k":108,"c":7,"h":2.7,"x":0.047},{"k":108,"c":7,"h":4,"x":0.048},{"k":108,"c":7,"h":5.5,"x":0.049},{"k":108,"c":7,"h":7,"x":0.051},{"k":108,"c":7,"h":8.5,"x":0.050},{"k":108,"c":7,"h":10,"x":0.050},{"k":108,"c":7,"h":11.5,"x":0.048},{"k":108,"c":7,"h":13,"x":0.044},{"k":108,"c":7,"h":15,"x":0.038},{"k":108,"c":7,"h":17,"x":0.031},{"k":108,"c":7,"h":19,"x":0.024},{"k":108,"c":7,"h":21,"x":0.019},{"k":108,"c":7,"h":23,"x":0.012},{"k":108,"c":7,"h":25,"x":0.008},{"k":108,"c":7,"h":28,"x":0.004},{"k":108,"c":7,"h":31,"x":0.002},{"k":108,"c":7,"h":35,"x":0.001},{"k":108,"c":7,"h":40,"x":0},{"k":108,"c":7,"h":47,"x":0},
{"k":109,"c":8,"h":0.3,"x":0.020},{"k":109,"c":8,"h":1.5,"x":0.031},{"k":109,"c":8,"h":2.7,"x":0.040},{"k":109,"c":8,"h":4,"x":0.043},{"k":109,"c":8,"h":5.5,"x":0.047},{"k":109,"c":8,"h":7,"x":0.051},{"k":109,"c":8,"h":8.5,"x":0.052},{"k":109,"c":8,"h":10,"x":0.054},{"k":109,"c":8,"h":11.5,"x":0.054},{"k":109,"c":8,"h":13,"x":0.050},{"k":109,"c":8,"h":15,"x":0.043},{"k":109,"c":8,"h":17,"x":0.035},{"k":109,"c":8,"h":19,"x":0.028},{"k":109,"c":8,"h":21,"x":0.021},{"k":109,"c":8,"h":23,"x":0.014},{"k":109,"c":8,"h":25,"x":0.009},{"k":109,"c":8,"h":28,"x":0.004},{"k":109,"c":8,"h":31,"x":0.002},{"k":109,"c":8,"h":35,"x":0.001},{"k":109,"c":8,"h":40,"x":0},{"k":109,"c":8,"h":47,"x":0},
{"k":110,"c":9,"h":0.3,"x":0.012},{"k":110,"c":9,"h":1.5,"x":0.023},{"k":110,"c":9,"h":2.7,"x":0.034},{"k":110,"c":9,"h":4,"x":0.039},{"k":110,"c":9,"h":5.5,"x":0.045},{"k":110,"c":9,"h":7,"x":0.051},{"k":110,"c":9,"h":8.5,"x":0.054},{"k":110,"c":9,"h":10,"x":0.058},{"k":110,"c":9,"h":11.5,"x":0.060},{"k":110,"c":9,"h":13,"x":0.055},{"k":110,"c":9,"h":15,"x":0.049},{"k":110,"c":9,"h":17,"x":0.039},{"k":110,"c":9,"h":19,"x":0.031},{"k":110,"c":9,"h":21,"x":0.023},{"k":110,"c":9,"h":23,"x":0.016},{"k":110,"c":9,"h":25,"x":0.010},{"k":110,"c":9,"h":28,"x":0.004},{"k":110,"c":9,"h":31,"x":0.002},{"k":110,"c":9,"h":35,"x":0.001},{"k":110,"c":9,"h":40,"x":0},{"k":110,"c":9,"h":47,"x":0},
{"k":111,"c":10,"h":0.3,"x":0.005},{"k":111,"c":10,"h":1.5,"x":0.017},{"k":111,"c":10,"h":2.7,"x":0.028},{"k":111,"c":10,"h":4,"x":0.035},{"k":111,"c":10,"h":5.5,"x":0.043},{"k":111,"c":10,"h":7,"x":0.051},{"k":111,"c":10,"h":8.5,"x":0.056},{"k":111,"c":10,"h":10,"x":0.062},{"k":111,"c":10,"h":11.5,"x":0.065},{"k":111,"c":10,"h":13,"x":0.060},{"k":111,"c":10,"h":15,"x":0.053},{"k":111,"c":10,"h":17,"x":0.043},{"k":111,"c":10,"h":19,"x":0.034},{"k":111,"c":10,"h":21,"x":0.026},{"k":111,"c":10,"h":23,"x":0.017},{"k":111,"c":10,"h":25,"x":0.010},{"k":111,"c":10,"h":28,"x":0.005},{"k":111,"c":10,"h":31,"x":0.002},{"k":111,"c":10,"h":35,"x":0.001},{"k":111,"c":10,"h":40,"x":0},{"k":111,"c":10,"h":47,"x":0},
{"k":112,"c":11.5,"h":0.3,"x":-0.002},{"k":112,"c":11.5,"h":1.5,"x":0.010},{"k":112,"c":11.5,"h":2.7,"x":0.022},{"k":112,"c":11.5,"h":4,"x":0.030},{"k":112,"c":11.5,"h":5.5,"x":0.041},{"k":112,"c":11.5,"h":7,"x":0.051},{"k":112,"c":11.5,"h":8.5,"x":0.058},{"k":112,"c":11.5,"h":10,"x":0.065},{"k":112,"c":11.5,"h":11.5,"x":0.069},{"k":112,"c":11.5,"h":13,"x":0.065},{"k":112,"c":11.5,"h":15,"x":0.057},{"k":112,"c":11.5,"h":17,"x":0.047},{"k":112,"c":11.5,"h":19,"x":0.037},{"k":112,"c":11.5,"h":21,"x":0.028},{"k":112,"c":11.5,"h":23,"x":0.018},{"k":112,"c":11.5,"h":25,"x":0.011},{"k":112,"c":11.5,"h":28,"x":0.005},{"k":112,"c":11.5,"h":31,"x":0.003},{"k":112,"c":11.5,"h":35,"x":0.001},{"k":112,"c":11.5,"h":40,"x":0},{"k":112,"c":11.5,"h":47,"x":0},
{"k":113,"c":13,"h":0.3,"x":-0.009},{"k":113,"c":13,"h":1.5,"x":0.004},{"k":113,"c":13,"h":2.7,"x":0.017},{"k":113,"c":13,"h":4,"x":0.027},{"k":113,"c":13,"h":5.5,"x":0.039},{"k":113,"c":13,"h":7,"x":0.051},{"k":113,"c":13,"h":8.5,"x":0.060},{"k":113,"c":13,"h":10,"x":0.069},{"k":113,"c":13,"h":11.5,"x":0.074},{"k":113,"c":13,"h":13,"x":0.070},{"k":113,"c":13,"h":15,"x":0.061},{"k":113,"c":13,"h":17,"x":0.050},{"k":113,"c":13,"h":19,"x":0.039},{"k":113,"c":13,"h":21,"x":0.029},{"k":113,"c":13,"h":23,"x":0.020},{"k":113,"c":13,"h":25,"x":0.012},{"k":113,"c":13,"h":28,"x":0.005},{"k":113,"c":13,"h":31,"x":0.003},{"k":113,"c":13,"h":35,"x":0.001},{"k":113,"c":13,"h":40,"x":0},{"k":113,"c":13,"h":47,"x":0},
{"k":114,"c":15,"h":0.3,"x":-0.013},{"k":114,"c":15,"h":1.5,"x":0.001},{"k":114,"c":15,"h":2.7,"x":0.014},{"k":114,"c":15,"h":4,"x":0.025},{"k":114,"c":15,"h":5.5,"x":0.038},{"k":114,"c":15,"h":7,"x":0.051},{"k":114,"c":15,"h":8.5,"x":0.061},{"k":114,"c":15,"h":10,"x":0.071},{"k":114,"c":15,"h":11.5,"x":0.076},{"k":114,"c":15,"h":13,"x":0.072},{"k":114,"c":15,"h":15,"x":0.064},{"k":114,"c":15,"h":17,"x":0.052},{"k":114,"c":15,"h":19,"x":0.041},{"k":114,"c":15,"h":21,"x":0.031},{"k":114,"c":15,"h":23,"x":0.020},{"k":114,"c":15,"h":25,"x":0.012},{"k":114,"c":15,"h":28,"x":0.006},{"k":114,"c":15,"h":31,"x":0.003},{"k":114,"c":15,"h":35,"x":0.001},{"k":114,"c":15,"h":40,"x":0},{"k":114,"c":15,"h":47,"x":0},
{"k":115,"c":17,"h":0.3,"x":-0.016},{"k":115,"c":17,"h":1.5,"x":-0.002},{"k":115,"c":17,"h":2.7,"x":0.011},{"k":115,"c":17,"h":4,"x":0.023},{"k":115,"c":17,"h":5.5,"x":0.037},{"k":115,"c":17,"h":7,"x":0.051},{"k":115,"c":17,"h":8.5,"x":0.062},{"k":115,"c":17,"h":10,"x":0.072},{"k":115,"c":17,"h":11.5,"x":0.079},{"k":115,"c":17,"h":13,"x":0.075},{"k":115,"c":17,"h":15,"x":0.066},{"k":115,"c":17,"h":17,"x":0.053},{"k":115,"c":17,"h":19,"x":0.042},{"k":115,"c":17,"h":21,"x":0.032},{"k":115,"c":17,"h":23,"x":0.021},{"k":115,"c":17,"h":25,"x":0.013},{"k":115,"c":17,"h":28,"x":0.006},{"k":115,"c":17,"h":31,"x":0.003},{"k":115,"c":17,"h":35,"x":0.001},{"k":115,"c":17,"h":40,"x":0},{"k":115,"c":17,"h":47,"x":0},
{"k":116,"c":24,"h":0.3,"x":-0.019},{"k":116,"c":24,"h":1.5,"x":-0.005},{"k":116,"c":24,"h":2.7,"x":0.009},{"k":116,"c":24,"h":4,"x":0.021},{"k":116,"c":24,"h":5.5,"x":0.037},{"k":116,"c":24,"h":7,"x":0.051},{"k":116,"c":24,"h":8.5,"x":0.063},{"k":116,"c":24,"h":10,"x":0.074},{"k":116,"c":24,"h":11.5,"x":0.081},{"k":116,"c":24,"h":13,"x":0.077},{"k":116,"c":24,"h":15,"x":0.068},{"k":116,"c":24,"h":17,"x":0.055},{"k":116,"c":24,"h":19,"x":0.043},{"k":116,"c":24,"h":21,"x":0.032},{"k":116,"c":24,"h":23,"x":0.022},{"k":116,"c":24,"h":25,"x":0.013},{"k":116,"c":24,"h":28,"x":0.006},{"k":116,"c":24,"h":31,"x":0.003},{"k":116,"c":24,"h":35,"x":0.001},{"k":116,"c":24,"h":40,"x":0},{"k":116,"c":24,"h":47,"x":0},
{"k":117,"c":44,"h":0.3,"x":-0.021},{"k":117,"c":44,"h":1.5,"x":-0.007},{"k":117,"c":44,"h":2.7,"x":0.007},{"k":117,"c":44,"h":4,"x":0.020},{"k":117,"c":44,"h":5.5,"x":0.036},{"k":117,"c":44,"h":7,"x":0.051},{"k":117,"c":44,"h":8.5,"x":0.063},{"k":117,"c":44,"h":10,"x":0.075},{"k":117,"c":44,"h":11.5,"x":0.082},{"k":117,"c":44,"h":13,"x":0.078},{"k":117,"c":44,"h":15,"x":0.069},{"k":117,"c":44,"h":17,"x":0.056},{"k":117,"c":44,"h":19,"x":0.044},{"k":117,"c":44,"h":21,"x":0.033},{"k":117,"c":44,"h":23,"x":0.022},{"k":117,"c":44,"h":25,"x":0.013},{"k":117,"c":44,"h":28,"x":0.006},{"k":117,"c":44,"h":31,"x":0.003},{"k":117,"c":44,"h":35,"x":0.001},{"k":117,"c":44,"h":40,"x":0},{"k":117,"c":44,"h":47,"x":0}
],
"bd":[
{"h":1,"c":1},{"h":2,"c":2},{"h":3,"c":3},{"h":4,"c":4},{"h":5,"c":5},{"h":6,"c":6},{"h":7,"c":7},{"h":8,"c":8},{"h":9,"c":9},{"h":10,"c":10},{"h":11,"c":11},{"h":12,"c":12},{"h":13,"c":13},{"h":14,"c":14},{"h":15,"c":15},{"h":16,"c":16},{"h":17,"c":17},{"h":18,"c":18},{"h":19,"c":19},{"h":20,"c":20},{"h":21,"c":21},{"h":22.5,"c":22.5},{"h":24,"c":24},{"h":25.5,"c":25.5},{"h":27,"c":27},{"h":28.5,"c":28.5},{"h":30,"c":30},{"h":32,"c":32},{"h":34,"c":34},{"h":36,"c":36},{"h":38,"c":38},{"h":40,"c":40},{"h":42,"c":42},{"h":44,"c":44}
],
"cl":[
{"s":"mean profile","h":0,"x":334},{"s":"mean profile","h":2,"x":333},{"s":"mean profile","h":4,"x":332},{"s":"mean profile","h":6,"x":330},{"s":"mean profile","h":8,"x":327},{"s":"mean profile","h":10,"x":322},{"s":"mean profile","h":12,"x":312},{"s":"mean profile","h":14,"x":295},{"s":"mean profile","h":16,"x":268},{"s":"mean profile","h":18,"x":224},{"s":"mean profile","h":20,"x":173},{"s":"mean profile","h":22,"x":135},{"s":"mean profile","h":24,"x":105},{"s":"mean profile","h":26,"x":83},{"s":"mean profile","h":28,"x":65},{"s":"mean profile","h":30,"x":51},{"s":"mean profile","h":33,"x":34},{"s":"mean profile","h":36,"x":21},{"s":"mean profile","h":40,"x":10},{"s":"mean profile","h":45,"x":3},{"s":"mean profile","h":50,"x":1},
{"s":"a priori profile","h":0,"x":316},{"s":"a priori profile","h":2,"x":316},{"s":"a priori profile","h":4,"x":315},{"s":"a priori profile","h":6,"x":314},{"s":"a priori profile","h":8,"x":312},{"s":"a priori profile","h":10,"x":307},{"s":"a priori profile","h":12,"x":296},{"s":"a priori profile","h":14,"x":276},{"s":"a priori profile","h":16,"x":246},{"s":"a priori profile","h":18,"x":203},{"s":"a priori profile","h":20,"x":158},{"s":"a priori profile","h":22,"x":123},{"s":"a priori profile","h":24,"x":96},{"s":"a priori profile","h":26,"x":76},{"s":"a priori profile","h":28,"x":61},{"s":"a priori profile","h":30,"x":49},{"s":"a priori profile","h":33,"x":31},{"s":"a priori profile","h":36,"x":20},{"s":"a priori profile","h":40,"x":10},{"s":"a priori profile","h":45,"x":4},{"s":"a priori profile","h":50,"x":1.5}
],
"cb":[
{"h":0,"lo":329,"hi":339},{"h":2,"lo":328,"hi":338},{"h":4,"lo":327,"hi":337},{"h":6,"lo":324,"hi":336},{"h":8,"lo":320,"hi":334},{"h":10,"lo":313,"hi":331},{"h":12,"lo":301,"hi":323},{"h":14,"lo":283,"hi":307},{"h":16,"lo":257,"hi":279},{"h":18,"lo":215,"hi":233},{"h":20,"lo":166,"hi":180},{"h":22,"lo":130,"hi":140},{"h":24,"lo":101,"hi":109},{"h":26,"lo":80,"hi":86},{"h":28,"lo":62,"hi":68},{"h":30,"lo":49,"hi":53},{"h":33,"lo":32,"hi":36},{"h":36,"lo":20,"hi":22},{"h":40,"lo":9,"hi":11},{"h":45,"lo":2.5,"hi":3.5},{"h":50,"lo":0.5,"hi":1.5}
],
"fl":[
{"s":"mean profile","h":0,"x":329},{"s":"mean profile","h":2,"x":329},{"s":"mean profile","h":4,"x":328},{"s":"mean profile","h":6,"x":327},{"s":"mean profile","h":8,"x":325},{"s":"mean profile","h":10,"x":321},{"s":"mean profile","h":12,"x":310},{"s":"mean profile","h":14,"x":290},{"s":"mean profile","h":16,"x":258},{"s":"mean profile","h":18,"x":212},{"s":"mean profile","h":20,"x":163},{"s":"mean profile","h":22,"x":126},{"s":"mean profile","h":24,"x":97},{"s":"mean profile","h":26,"x":78},{"s":"mean profile","h":28,"x":63},{"s":"mean profile","h":30,"x":50},{"s":"mean profile","h":33,"x":32},{"s":"mean profile","h":36,"x":20},{"s":"mean profile","h":40,"x":10},{"s":"mean profile","h":45,"x":4},{"s":"mean profile","h":50,"x":1.5},
{"s":"a priori profile","h":0,"x":314},{"s":"a priori profile","h":2,"x":314},{"s":"a priori profile","h":4,"x":313},{"s":"a priori profile","h":6,"x":312},{"s":"a priori profile","h":8,"x":310},{"s":"a priori profile","h":10,"x":305},{"s":"a priori profile","h":12,"x":294},{"s":"a priori profile","h":14,"x":275},{"s":"a priori profile","h":16,"x":245},{"s":"a priori profile","h":18,"x":202},{"s":"a priori profile","h":20,"x":157},{"s":"a priori profile","h":22,"x":122},{"s":"a priori profile","h":24,"x":95},{"s":"a priori profile","h":26,"x":77},{"s":"a priori profile","h":28,"x":62},{"s":"a priori profile","h":30,"x":49},{"s":"a priori profile","h":33,"x":31},{"s":"a priori profile","h":36,"x":19},{"s":"a priori profile","h":40,"x":10},{"s":"a priori profile","h":45,"x":4},{"s":"a priori profile","h":50,"x":1.5}
],
"fb":[
{"h":0,"lo":316,"hi":342},{"h":2,"lo":316,"hi":342},{"h":4,"lo":315,"hi":341},{"h":6,"lo":314,"hi":340},{"h":8,"lo":311,"hi":339},{"h":10,"lo":306,"hi":336},{"h":12,"lo":295,"hi":325},{"h":14,"lo":277,"hi":303},{"h":16,"lo":247,"hi":269},{"h":18,"lo":204,"hi":220},{"h":20,"lo":157,"hi":169},{"h":22,"lo":121,"hi":131},{"h":24,"lo":93,"hi":101},{"h":26,"lo":75,"hi":81},{"h":28,"lo":61,"hi":65},{"h":30,"lo":48,"hi":52},{"h":33,"lo":30.5,"hi":33.5},{"h":36,"lo":19,"hi":21},{"h":40,"lo":9,"hi":11},{"h":45,"lo":3.5,"hi":4.5},{"h":50,"lo":1,"hi":2}
]
},
"columns":5,
"spacing":{"row":27,"column":0},
"bounds":"flush",
"center":true,
"resolve":{"scale":{"color":"independent"},"legend":{"color":"independent"}},
"concat":[
  {"width":112,"height":110,
   "title":{"text":"N₂O col. AVK 125HR","offset":5},
   "layer":[
    {"data":{"name":"a"},"mark":{"type":"line","interpolate":"catmull-rom","strokeWidth":1.2,"clip":true},
     "encoding":{
      "x":{"field":"x","type":"quantitative","scale":{"domain":[-0.04,2.2],"nice":false,"zero":false},"axis":{"values":[0,0.5,1,1.5,2],"tickCount":20,"format":".1f","title":null,"labelOverlap":false}},
      "y":{"field":"h","type":"quantitative","scale":{"domain":[0,50],"nice":false,"zero":false},"axis":{"values":[0,10,20,30,40,50],"tickCount":20,"title":"Height [km]","labelOverlap":false}},
      "color":{"field":"c","type":"quantitative","scale":{"domain":[30,90],"range":["#00007f","#0000ff","#007fff","#00ffff","#7fff7f","#ffff00","#ff7f00","#ff0000","#7f0000"],"interpolate":"rgb"},
       "legend":{"type":"gradient","direction":"vertical","orient":"right","offset":5.5,"padding":0,"gradientLength":110,"gradientThickness":4,"values":[30,40,50,60,70,80,90],"tickCount":20,"labelOverlap":false,"labelOffset":3,"title":"SZA [ ° ]","titleOrient":"right","titleAngle":270,"titleAnchor":"middle","titlePadding":3,"gradientStrokeWidth":0.5,"gradientStrokeColor":"#333"}},
      "detail":{"field":"k","type":"nominal"},
      "order":{"field":"h","type":"quantitative"}}},
    {"data":{"values":[{"t":"(a)"}]},"mark":{"type":"text","fontSize":12,"align":"left","baseline":"middle","color":"#000"},
     "encoding":{"x":{"datum":0.03,"type":"quantitative"},"y":{"datum":46.6,"type":"quantitative"},"text":{"field":"t"}}}
   ]},
  {"width":59.5,"height":110,"view":{"stroke":null},"data":{"values":[{"t":""}]},"mark":{"type":"text"},"encoding":{"text":{"field":"t"}}},
  {"width":128,"height":110,
   "title":{"text":"N₂O AVK DOF=2.6±0.1  125HR","offset":5},
   "layer":[
    {"data":{"name":"b"},"mark":{"type":"line","interpolate":"catmull-rom","strokeWidth":0.7,"clip":true},
     "encoding":{
      "x":{"field":"x","type":"quantitative","scale":{"domain":[-0.046,0.13],"nice":false,"zero":false},"axis":{"values":[-0.04,-0.02,0,0.02,0.04,0.06,0.08,0.1,0.12],"tickCount":20,"format":".2f","title":null,"labelOverlap":false}},
      "y":{"field":"h","type":"quantitative","scale":{"domain":[0.4,46.5],"nice":false,"zero":false},"axis":{"values":[10,20,30,40],"tickCount":20,"title":"Height [km]","labelOverlap":false}},
      "color":{"field":"c","type":"quantitative","scale":{"domain":[0,46],"range":["#00007f","#0000ff","#007fff","#00ffff","#7fff7f","#ffff00","#ff7f00","#ff0000","#7f0000"],"interpolate":"rgb"},"legend":null},
      "detail":{"field":"k","type":"nominal"},
      "order":{"field":"h","type":"quantitative"}}},
    {"data":{"name":"bd"},"mark":{"type":"rule","strokeWidth":0.8,"opacity":0.5},
     "encoding":{"x":{"datum":-0.046,"type":"quantitative"},"x2":{"datum":-0.038},"y":{"field":"h","type":"quantitative"},"color":{"field":"c","type":"quantitative","legend":null}}},
    {"data":{"values":[{"t":"(b)"}]},"mark":{"type":"text","fontSize":12,"align":"left","baseline":"middle","color":"#000"},
     "encoding":{"x":{"datum":-0.033,"type":"quantitative"},"y":{"datum":42.6,"type":"quantitative"},"text":{"field":"t"}}}
   ]},
  {"width":39,"height":110,"view":{"stroke":null},"data":{"values":[{"t":""}]},"mark":{"type":"text"},"encoding":{"text":{"field":"t"}}},
  {"width":131,"height":106,
   "title":{"text":"A priori and retrieved N₂O profiles 125HR","offset":-5},
   "layer":[
    {"data":{"name":"cb"},"mark":{"type":"area","orient":"horizontal","color":"#f26060","opacity":0.55},
     "encoding":{
      "y":{"field":"h","type":"quantitative","scale":{"domain":[0,50],"nice":false,"zero":false},"axis":{"values":[0,10,20,30,40,50],"tickCount":20,"title":"Height [km]","labelOverlap":false}},
      "x":{"field":"lo","type":"quantitative","scale":{"domain":[-12,367],"nice":false,"zero":false},"axis":{"values":[0,50,100,150,200,250,300,350],"tickCount":20,"title":"VMR [ppb]","labelOverlap":false}},
      "x2":{"field":"hi"}}},
    {"data":{"name":"cl"},"mark":{"type":"line","strokeWidth":1.6,"interpolate":"catmull-rom"},
     "encoding":{
      "x":{"field":"x","type":"quantitative","axis":{"values":[0,50,100,150,200,250,300,350],"tickCount":20,"title":"VMR [ppb]","labelOverlap":false}},
      "y":{"field":"h","type":"quantitative","axis":{"values":[0,10,20,30,40,50],"tickCount":20,"title":"Height [km]","labelOverlap":false}},
      "color":{"field":"s","type":"nominal","scale":{"domain":["mean profile","a priori profile"],"range":["#ee1c1c","#000000"]},
       "legend":{"orient":"top-right","offset":3,"title":null,"symbolType":"stroke","symbolStrokeWidth":2,"symbolSize":170,"labelFontSize":5.5,"fillColor":"white","strokeColor":"#cccccc","padding":4,"cornerRadius":2,"rowPadding":2,"labelOffset":5}},
      "order":{"field":"h","type":"quantitative"}}},
    {"data":{"values":[{"t":"(c)"}]},"mark":{"type":"text","fontSize":12,"align":"left","baseline":"middle","color":"#000"},
     "encoding":{"x":{"datum":0,"type":"quantitative"},"y":{"datum":45.7,"type":"quantitative"},"text":{"field":"t"}}}
   ]},
  {"width":112,"height":110,
   "title":{"text":"N₂O col. AVK Vertex","offset":4.3},
   "layer":[
    {"data":{"name":"d"},"mark":{"type":"line","interpolate":"catmull-rom","strokeWidth":1.4,"clip":true},
     "encoding":{
      "x":{"field":"x","type":"quantitative","scale":{"domain":[-0.04,2.2],"nice":false,"zero":false},"axis":{"values":[0,0.5,1,1.5,2],"tickCount":20,"format":".1f","title":null,"labelOverlap":false}},
      "y":{"field":"h","type":"quantitative","scale":{"domain":[0,50],"nice":false,"zero":false},"axis":{"values":[0,10,20,30,40,50],"tickCount":20,"title":"Height [km]","labelOverlap":false}},
      "color":{"field":"c","type":"quantitative","scale":{"domain":[30,90],"range":["#00007f","#0000ff","#007fff","#00ffff","#7fff7f","#ffff00","#ff7f00","#ff0000","#7f0000"],"interpolate":"rgb"},
       "legend":{"type":"gradient","direction":"vertical","orient":"right","offset":5.5,"padding":0,"gradientLength":110,"gradientThickness":4,"values":[30,40,50,60,70,80,90],"tickCount":20,"labelOverlap":false,"labelOffset":3,"title":"SZA [ ° ]","titleOrient":"right","titleAngle":270,"titleAnchor":"middle","titlePadding":3,"gradientStrokeWidth":0.5,"gradientStrokeColor":"#333"}},
      "detail":{"field":"k","type":"nominal"},
      "order":{"field":"h","type":"quantitative"}}},
    {"data":{"values":[{"t":"(d)"}]},"mark":{"type":"text","fontSize":12,"align":"left","baseline":"middle","color":"#000"},
     "encoding":{"x":{"datum":0.01,"type":"quantitative"},"y":{"datum":45.5,"type":"quantitative"},"text":{"field":"t"}}}
   ]},
  {"width":59.5,"height":110,"view":{"stroke":null},"data":{"values":[{"t":""}]},"mark":{"type":"text"},"encoding":{"text":{"field":"t"}}},
  {"width":128,"height":110,
   "title":{"text":"N₂O AVK DOF=1.6±0.1  Vertex","offset":2.3},
   "layer":[
    {"data":{"name":"e"},"mark":{"type":"line","interpolate":"catmull-rom","strokeWidth":0.7,"clip":true},
     "encoding":{
      "x":{"field":"x","type":"quantitative","scale":{"domain":[-0.0254,0.0965],"nice":false,"zero":false},"axis":{"values":[-0.02,0,0.02,0.04,0.06,0.08],"tickCount":20,"format":".2f","title":null,"labelOverlap":false}},
      "y":{"field":"h","type":"quantitative","scale":{"domain":[0.3,47.5],"nice":false,"zero":false},"axis":{"values":[10,20,30,40],"tickCount":20,"title":"Height [km]","labelOverlap":false}},
      "color":{"field":"c","type":"quantitative","scale":{"domain":[0,46],"range":["#00007f","#0000ff","#007fff","#00ffff","#7fff7f","#ffff00","#ff7f00","#ff0000","#7f0000"],"interpolate":"rgb"},"legend":null},
      "detail":{"field":"k","type":"nominal"},
      "order":{"field":"h","type":"quantitative"}}},
    {"data":{"name":"bd"},"mark":{"type":"rule","strokeWidth":0.8,"opacity":0.5},
     "encoding":{"x":{"datum":-0.0254,"type":"quantitative"},"x2":{"datum":-0.0185},"y":{"field":"h","type":"quantitative"},"color":{"field":"c","type":"quantitative","legend":null}}},
    {"data":{"values":[{"t":"(e)"}]},"mark":{"type":"text","fontSize":12,"align":"left","baseline":"middle","color":"#000"},
     "encoding":{"x":{"datum":-0.018,"type":"quantitative"},"y":{"datum":42.5,"type":"quantitative"},"text":{"field":"t"}}}
   ]},
  {"width":39,"height":110,"view":{"stroke":null},"data":{"values":[{"t":""}]},"mark":{"type":"text"},"encoding":{"text":{"field":"t"}}},
  {"width":131,"height":105,
   "title":{"text":"A priori and retrieved N₂O profiles Vertex","offset":-4.8},
   "layer":[
    {"data":{"name":"fb"},"mark":{"type":"area","orient":"horizontal","color":"#f26060","opacity":0.55},
     "encoding":{
      "y":{"field":"h","type":"quantitative","scale":{"domain":[0,50],"nice":false,"zero":false},"axis":{"values":[0,10,20,30,40,50],"tickCount":20,"title":"Height [km]","labelOverlap":false}},
      "x":{"field":"lo","type":"quantitative","scale":{"domain":[-12,367],"nice":false,"zero":false},"axis":{"values":[0,50,100,150,200,250,300,350],"tickCount":20,"title":"VMR [ppb]","labelOverlap":false}},
      "x2":{"field":"hi"}}},
    {"data":{"name":"fl"},"mark":{"type":"line","strokeWidth":1.6,"interpolate":"catmull-rom"},
     "encoding":{
      "x":{"field":"x","type":"quantitative","axis":{"values":[0,50,100,150,200,250,300,350],"tickCount":20,"title":"VMR [ppb]","labelOverlap":false}},
      "y":{"field":"h","type":"quantitative","axis":{"values":[0,10,20,30,40,50],"tickCount":20,"title":"Height [km]","labelOverlap":false}},
      "color":{"field":"s","type":"nominal","scale":{"domain":["mean profile","a priori profile"],"range":["#ee1c1c","#000000"]},
       "legend":{"orient":"top-right","offset":3,"title":null,"symbolType":"stroke","symbolStrokeWidth":2,"symbolSize":170,"labelFontSize":5.5,"fillColor":"white","strokeColor":"#cccccc","padding":4,"cornerRadius":2,"rowPadding":2,"labelOffset":5}},
      "order":{"field":"h","type":"quantitative"}}},
    {"data":{"values":[{"t":"(f)"}]},"mark":{"type":"text","fontSize":12,"align":"left","baseline":"middle","color":"#000"},
     "encoding":{"x":{"datum":0,"type":"quantitative"},"y":{"datum":45,"type":"quantitative"},"text":{"field":"t"}}}
   ]}
]
}
